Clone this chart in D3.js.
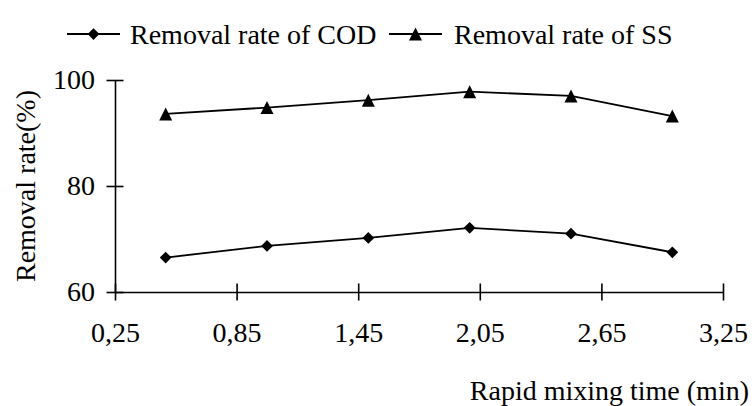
<!DOCTYPE html>
<html>
<head>
<meta charset="utf-8">
<script src="https://cdn.jsdelivr.net/npm/d3@7/dist/d3.min.js"></script>
<style>
  body { margin: 0; background: #fff; }
  svg { display: block; font-family: "Liberation Serif", "Times New Roman", serif; }
</style>
</head>
<body>
<div class="chart"></div>
<script>
const mixingTime = [0.5, 1.0, 1.5, 2.0, 2.5, 3.0];
const codRemoval = [66.5, 68.7, 70.2, 72.1, 71.0, 67.5];
const ssRemoval = [93.6, 94.8, 96.2, 97.8, 97.0, 93.2];
const xTicks = [0.25, 0.85, 1.45, 2.05, 2.65, 3.25];
const yTicks = [60, 80, 100];
const seriesNames = ['Removal rate of COD', 'Removal rate of SS'];

function drawChart() {
  const w = 752;
  const h = 406;
  const fontSize = 28;
  const tick = 8.5;

  const xScale = d3.scaleLinear()
    .domain([0.25, 3.25])
    .range([115, 723]);
  const yScale = d3.scaleLinear()
    .domain([60, 100])
    .range([292, 80]);

  const commaFormat = d3.formatLocale({decimal: ',', thousands: '.', grouping: [3], currency: ['', '']}).format('.2f');

  const svg = d3.select('.chart')
    .append('svg')
    .attr('width', w)
    .attr('height', h);

  // x axis, ticks cross the line
  const xAxis = svg.append('g')
    .attr('transform', `translate(0, ${yScale(60)})`)
    .call(d3.axisBottom(xScale)
      .tickValues(xTicks)
      .tickFormat(commaFormat)
      .tickSizeInner(tick)
      .tickSizeOuter(0)
      .tickPadding(21.3));

  // y axis
  const yAxis = svg.append('g')
    .attr('transform', `translate(${xScale(0.25)}, 0)`)
    .call(d3.axisLeft(yScale)
      .tickValues(yTicks)
      .tickSizeInner(tick)
      .tickSizeOuter(0)
      .tickPadding(11.5));

  xAxis.selectAll('.tick').append('line').attr('y2', -tick);
  yAxis.selectAll('.tick').append('line').attr('x2', tick);

  [xAxis, yAxis].forEach((ax) => {
    ax.selectAll('path, line').attr('stroke', '#000').attr('stroke-width', 1.6);
    ax.selectAll('text')
      .attr('fill', '#000')
      .style('font-size', `${fontSize}px`)
      .style('font-family', '"Liberation Serif", "Times New Roman", serif');
  });

  const line = d3.line()
    .x((d) => xScale(d[0]))
    .y((d) => yScale(d[1]));

  // triangle centred on its bounding box, like the spreadsheet marker
  const boxTriangle = {
    draw(ctx, size) {
      const r = Math.sqrt(size) / 2;
      ctx.moveTo(0, -r);
      ctx.lineTo(r, r);
      ctx.lineTo(-r, r);
      ctx.closePath();
    }
  };

  const diamond = d3.symbol().type(d3.symbolDiamond2).size(88);
  const triangle = d3.symbol().type(boxTriangle).size(169);

  const series = [
    {values: codRemoval, symbol: diamond},
    {values: ssRemoval, symbol: triangle}
  ];

  series.forEach((s) => {
    const pts = mixingTime.map((t, i) => [t, s.values[i]]);
    svg.append('path')
      .datum(pts)
      .attr('d', line)
      .attr('fill', 'none')
      .attr('stroke', '#000')
      .attr('stroke-width', 1.8);

    svg.selectAll(null)
      .data(pts)
      .enter()
      .append('path')
      .attr('d', s.symbol)
      .attr('transform', (d) => `translate(${xScale(d[0])}, ${yScale(d[1])})`)
      .attr('fill', '#000');
  });

  // axis titles
  svg.append('text')
    .attr('x', 749)
    .attr('y', 400)
    .attr('text-anchor', 'end')
    .style('font-size', `${fontSize}px`)
    .text('Rapid mixing time (min)');

  svg.append('text')
    .attr('transform', 'translate(35, 186) rotate(-90)')
    .attr('text-anchor', 'middle')
    .style('font-size', `${fontSize}px`)
    .text('Removal rate(%)');

  // legend
  const legendPos = [{x: 67, tx: 130}, {x: 389, tx: 454}];
  const legend = svg.append('g')
    .attr('transform', 'translate(0, 34)');

  legend.selectAll('line')
    .data(legendPos)
    .enter()
    .append('line')
    .attr('x1', (d) => d.x)
    .attr('x2', (d) => d.x + 53)
    .attr('stroke', '#000')
    .attr('stroke-width', 1.8);

  legend.selectAll('path')
    .data(legendPos)
    .enter()
    .append('path')
    .attr('d', (d, i) => series[i].symbol())
    .attr('transform', (d) => `translate(${d.x + 26.5}, 0)`)
    .attr('fill', '#000');

  legend.selectAll('text')
    .data(legendPos)
    .enter()
    .append('text')
    .attr('x', (d) => d.tx)
    .attr('y', 10)
    .style('font-size', `${fontSize}px`)
    .text((d, i) => seriesNames[i]);
}

drawChart();
</script>
</body>
</html>
